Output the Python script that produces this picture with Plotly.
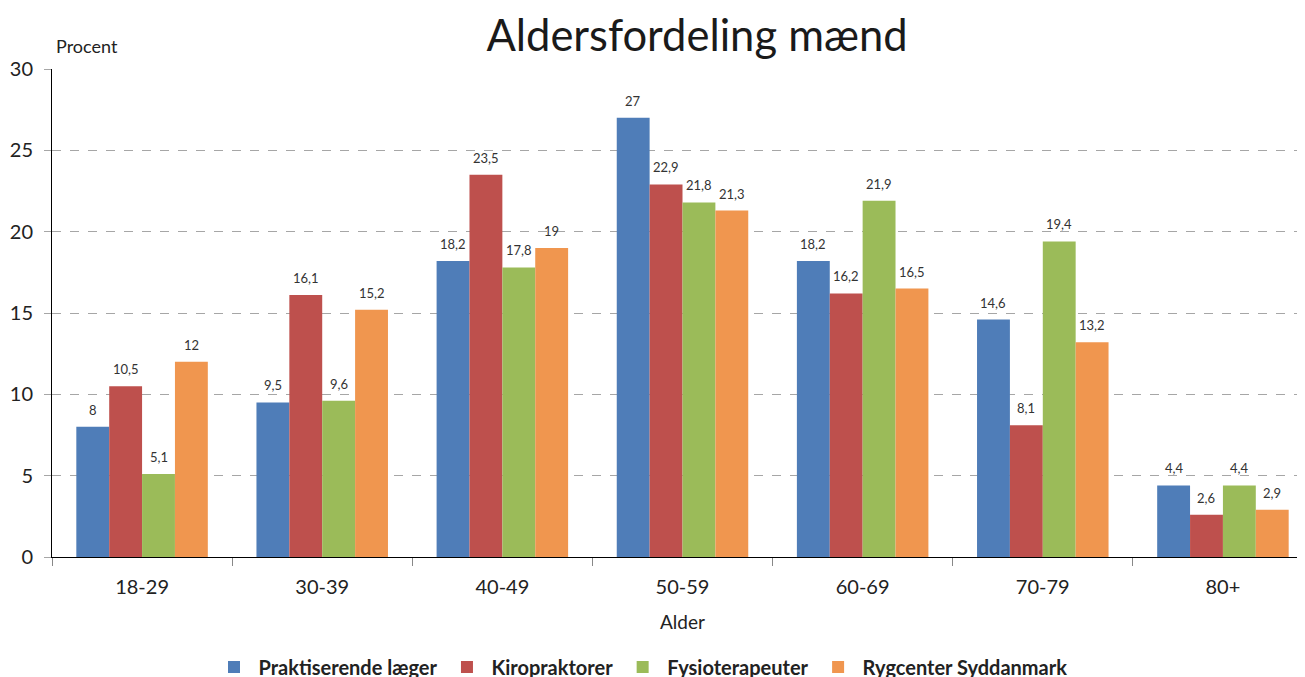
import plotly.graph_objects as go

categories = ["18-29", "30-39", "40-49", "50-59", "60-69", "70-79", "80+"]
series_names = ["Praktiserende læger", "Kiropraktorer", "Fysioterapeuter", "Rygcenter Syddanmark"]
laeger = [8, 9.5, 18.2, 27, 18.2, 14.6, 4.4]
kiro = [10.5, 16.1, 23.5, 22.9, 16.2, 8.1, 2.6]
fysio = [5.1, 9.6, 17.8, 21.8, 21.9, 19.4, 4.4]
rygcenter = [12, 15.2, 19, 21.3, 16.5, 13.2, 2.9]
colors = ["#4F7DB8", "#BE504D", "#9BBB59", "#F0964F"]

FONT = "Lato, 'Open Sans', sans-serif"
series = [laeger, kiro, fysio, rygcenter]

OFF = 8  # page body margin
W, H = 1305, 677
L, R, T, B = 52 - OFF, 0, 69 - OFF, H - (557 - OFF)
PW, PH = W - L - R, H - T - B

fig = go.Figure()
for name, vals, col in zip(series_names, series, colors):
    fig.add_trace(go.Bar(x=categories, y=vals, name=name, marker_color=col,
                         marker_line_width=0))

bargap = 0.27
bw = (1 - bargap) / 4
def fmt(v):
    return ("%g" % v).replace(".", ",")
for i, vals in enumerate(series):
    off = -((1 - bargap) / 2) + bw * (i + 0.5)
    for j, v in enumerate(vals):
        fig.add_annotation(x=j + off, y=v, xref="x", yref="y", text=fmt(v),
                           showarrow=False, yanchor="bottom", yshift=7,
                           font=dict(size=13, color="#333333", family=FONT))

fig.add_annotation(text="Procent", xref="paper", yref="paper",
                   x=(54 - 52) / PW, xanchor="left",
                   y=1 + (69 - 46) / PH, yanchor="middle", showarrow=False,
                   font=dict(size=18, color="#222222", family=FONT))

fig.update_layout(
    width=W, height=H,
    margin=dict(l=L, r=R, t=T, b=B, autoexpand=False),
    paper_bgcolor="white", plot_bgcolor="white",
    font=dict(family=FONT, color="#222222"),
    title=dict(text="Aldersfordeling mænd", x=(697 - OFF) / W, xanchor="center",
               y=1 - (36 - OFF) / H, yanchor="middle",
               font=dict(size=43.5, family=FONT, color="#1a1a1a")),
    barmode="group", bargap=bargap, bargroupgap=0,
    showlegend=True,
    legend=dict(orientation="h", x=(641 - OFF) / W, xref="container", xanchor="center",
                y=-(667 - 557) / PH, yanchor="middle",
                font=dict(size=20, family=FONT, color="#222222", weight="bold"),
                itemwidth=39, tracegroupgap=0),
    xaxis=dict(range=[-0.5, 6.5], showline=True, linecolor="#000000", linewidth=1,
               ticks="outside", tickson="boundaries", ticklen=8, tickcolor="#888888",
               tickfont=dict(size=20, color="#222222"), automargin=False,
               ticklabelstandoff=12,
               title=dict(text="Alder", font=dict(size=19, color="#222222"), standoff=18)),
    yaxis=dict(range=[0, 30], tickvals=[0, 5, 10, 15, 20, 25, 30],
               showline=True, linecolor="#000000", linewidth=1,
               showgrid=True, gridcolor="#A6A6A6", griddash="dash", gridwidth=1,
               ticks="outside", ticklen=7, tickcolor="#A6A6A6", automargin=False,
               ticklabelstandoff=7,
               tickfont=dict(size=20, color="#222222"), zeroline=False),
)
fig.write_html("out.html")
